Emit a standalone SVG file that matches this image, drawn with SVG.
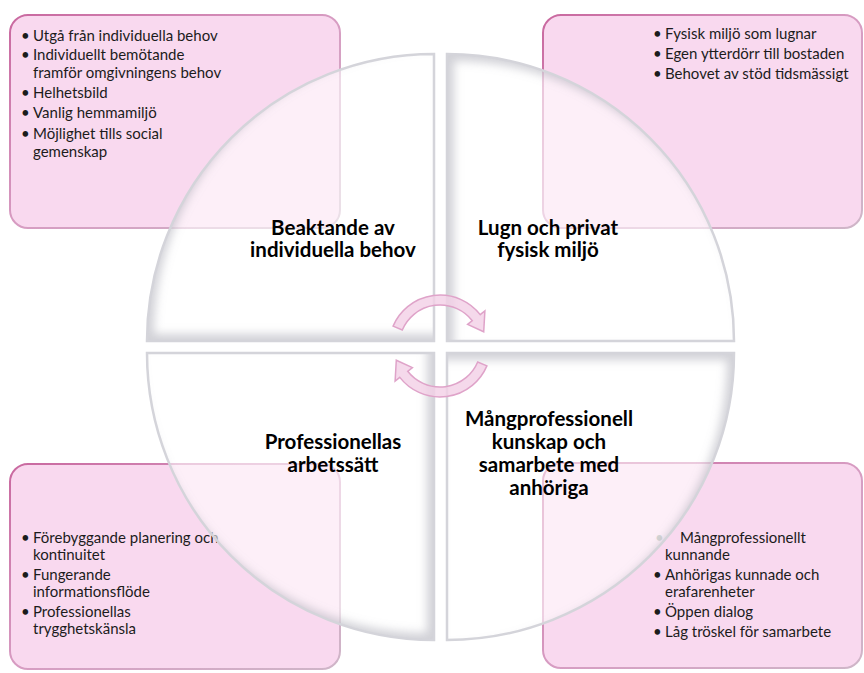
<svg xmlns="http://www.w3.org/2000/svg" width="864" height="673" viewBox="0 0 864 673">
<style>
.box{fill:#f9d9ef;stroke:url(#boxStroke);stroke-width:2}
.bt{font-family:Lato,"Liberation Sans",sans-serif;font-size:15px;fill:#1c1c1c}
.grey{fill:#9a9a9a}
.title{font-family:Lato,"Liberation Sans",sans-serif;font-size:20.5px;font-weight:bold;fill:#000;text-anchor:middle}
.qfill{fill:#ffffff;fill-opacity:0.58}
.qstroke{fill:none;stroke:#d4d4da;stroke-width:2.5}
.arrow{fill:#f3cfe6;fill-opacity:0.8;stroke:#dfa3c9;stroke-width:1.5}
</style>
<defs>
<linearGradient id="boxStroke" x1="0" y1="0" x2="1" y2="1">
<stop offset="0" stop-color="#c9689f"/>
<stop offset="0.5" stop-color="#d79cc2"/>
<stop offset="1" stop-color="#cfb6c8"/>
</linearGradient>
<filter id="bevel" x="-15%" y="-15%" width="130%" height="130%">
<feFlood flood-color="#9a9aa6" flood-opacity="0.45" result="c"/>
<feComposite in="c" in2="SourceAlpha" operator="out" result="outside"/>
<feOffset in="outside" dx="7" dy="-7" result="off"/>
<feGaussianBlur in="off" stdDeviation="5" result="blur"/>
<feComposite in="blur" in2="SourceAlpha" operator="in"/>
</filter>
<path id="quad" d="M0,0 L-287,0 A287,287 0 0 1 0,-287 Z"/>
</defs>

<g id="box-top-left">
<rect class="box" x="10" y="15" width="330" height="213" rx="18"/>
<text class="bt" x="21" y="41">•</text><text class="bt" x="33" y="41">Utgå från individuella behov</text>
<text class="bt" x="21" y="60">•</text><text class="bt" x="33" y="60">Individuellt bemötande</text>
<text class="bt" x="33" y="77.5">framför omgivningens behov</text>
<text class="bt" x="21" y="97.5">•</text><text class="bt" x="33" y="97.5">Helhetsbild</text>
<text class="bt" x="21" y="118">•</text><text class="bt" x="33" y="118">Vanlig hemmamiljö</text>
<text class="bt" x="21" y="138.5">•</text><text class="bt" x="33" y="138.5">Möjlighet tills social</text>
<text class="bt" x="33" y="156.5">gemenskap</text>
</g>

<g id="box-top-right">
<rect class="box" x="543" y="15" width="319" height="213" rx="18"/>
<text class="bt" x="653" y="39">•</text><text class="bt" x="665" y="39">Fysisk miljö som lugnar</text>
<text class="bt" x="653" y="59">•</text><text class="bt" x="665" y="59">Egen ytterdörr till bostaden</text>
<text class="bt" x="653" y="79">•</text><text class="bt" x="665" y="79">Behovet av stöd tidsmässigt</text>
</g>

<g id="box-bottom-left">
<rect class="box" x="10" y="464" width="330" height="205" rx="18"/>
<text class="bt" x="21" y="543">•</text><text class="bt" x="33" y="543">Förebyggande planering och</text>
<text class="bt" x="33" y="560">kontinuitet</text>
<text class="bt" x="21" y="580">•</text><text class="bt" x="33" y="580">Fungerande</text>
<text class="bt" x="33" y="597">informationsflöde</text>
<text class="bt" x="21" y="617">•</text><text class="bt" x="33" y="617">Professionellas</text>
<text class="bt" x="33" y="634">trygghetskänsla</text>
</g>

<g id="box-bottom-right">
<rect class="box" x="543" y="463" width="319" height="205" rx="18"/>
<text class="bt grey" x="655" y="543">•</text><text class="bt" x="680" y="543">Mångprofessionellt</text>
<text class="bt" x="665" y="560">kunnande</text>
<text class="bt" x="653" y="580">•</text><text class="bt" x="665" y="580">Anhörigas kunnade och</text>
<text class="bt" x="665" y="597">erafarenheter</text>
<text class="bt" x="653" y="617">•</text><text class="bt" x="665" y="617">Öppen dialog</text>
<text class="bt" x="653" y="637">•</text><text class="bt" x="665" y="637">Låg tröskel för samarbete</text>
</g>

<g id="quadrant-top-left">
<g transform="translate(434,341)">
<use href="#quad" class="qfill"/>
<use href="#quad" fill="#000" filter="url(#bevel)"/>
<use href="#quad" class="qstroke"/>
</g>
<text class="title" x="333" y="235">Beaktande av</text>
<text class="title" x="333" y="257">individuella behov</text>
</g>

<g id="quadrant-top-right">
<g transform="translate(447,341) rotate(90)">
<use href="#quad" class="qfill"/>
<use href="#quad" fill="#000" filter="url(#bevel)"/>
<use href="#quad" class="qstroke"/>
</g>
<text class="title" x="548" y="235">Lugn och privat</text>
<text class="title" x="548" y="257">fysisk miljö</text>
</g>

<g id="quadrant-bottom-right">
<g transform="translate(447,353) rotate(180)">
<use href="#quad" class="qfill"/>
<use href="#quad" fill="#000" filter="url(#bevel)"/>
<use href="#quad" class="qstroke"/>
</g>
<text class="title" x="549" y="426">Mångprofessionell</text>
<text class="title" x="549" y="449">kunskap och</text>
<text class="title" x="549" y="472">samarbete med</text>
<text class="title" x="549" y="495">anhöriga</text>
</g>

<g id="quadrant-bottom-left">
<g transform="translate(434,353) rotate(270)">
<use href="#quad" class="qfill"/>
<use href="#quad" fill="#000" filter="url(#bevel)"/>
<use href="#quad" class="qstroke"/>
</g>
<text class="title" x="333" y="449">Professionellas</text>
<text class="title" x="333" y="472">arbetssätt</text>
</g>

<g id="connectors">
<path class="arrow" d="M393.1,326.1 A51,51 0 0 1 480.2,314.6 L484.9,310.9 L483.7,331.8 L467.6,324.4 L472.3,320.7 A41,41 0 0 0 402.3,330 Z"/>
<path class="arrow" transform="rotate(180 440 346)" d="M393.1,326.1 A51,51 0 0 1 480.2,314.6 L484.9,310.9 L483.7,331.8 L467.6,324.4 L472.3,320.7 A41,41 0 0 0 402.3,330 Z"/>
</g>
</svg>
